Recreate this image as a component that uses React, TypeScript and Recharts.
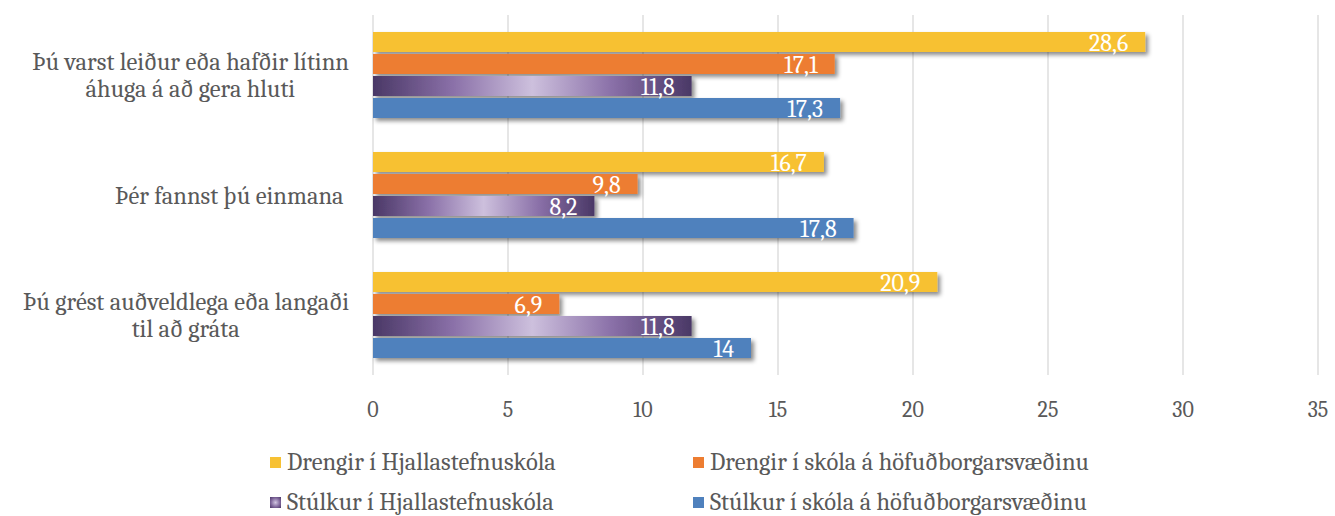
import React from "react"
import {
  BarChart,
  Bar,
  XAxis,
  YAxis,
  CartesianGrid,
  Legend,
  LabelList,
} from "recharts"

// flokkar (hver lína í flokksheiti er sér strengur)
const categories: string[][] = [
  ["Þú varst leiður eða hafðir lítinn", "áhuga á að gera hluti"],
  ["Þér fannst þú einmana "],
  ["Þú grést auðveldlega eða langaði", "til að gráta"],
]

const drengirHjalla = [28.6, 16.7, 20.9]
const drengirHofud = [17.1, 9.8, 6.9]
const stulkurHjalla = [11.8, 8.2, 11.8]
const stulkurHofud = [17.3, 17.8, 14]

const seriesNames = [
  "Drengir í Hjallastefnuskóla",
  "Drengir í skóla á höfuðborgarsvæðinu",
  "Stúlkur í Hjallastefnuskóla",
  "Stúlkur í skóla á höfuðborgarsvæðinu",
]

const xTicks = [0, 5, 10, 15, 20, 25, 30, 35]

const FONT = "Cambria, Caladea, 'Liberation Serif', serif"
const TEXT = "#595959"
const COLORS = ["#F7C133", "#ED7D31", "url(#purpleGrad)", "#4F81BD"]

const data = categories.map((lines, i) => ({
  name: lines.join(" "),
  lines,
  d1: drengirHjalla[i],
  d2: drengirHofud[i],
  s1: stulkurHjalla[i],
  s2: stulkurHofud[i],
}))

let ctx: CanvasRenderingContext2D | null = null
function measure(text: string, size: number) {
  if (!ctx) ctx = document.createElement("canvas").getContext("2d")
  if (!ctx) return text.length * size * 0.45
  ctx.font = `${size}px ${FONT}`
  return ctx.measureText(text).width
}

const CategoryTick = (props: any) => {
  const { y, payload } = props
  const lines: string[] = categories[payload.index] ?? [payload.value]
  const size = 24.5
  const lh = 27
  const right = 349
  const w = Math.max(...lines.map((l) => measure(l, size)))
  const cx = right - w / 2
  const top = y - ((lines.length - 1) * lh) / 2
  return (
    <g>
      {lines.map((l, i) => (
        <text
          key={i}
          x={cx}
          y={top + i * lh}
          dy="0.35em"
          textAnchor="middle"
          fontFamily={FONT}
          fontSize={size}
          fill={TEXT}
          style={{ whiteSpace: "pre" }}
        >
          {l}
        </text>
      ))}
    </g>
  )
}

const fmt = (v: any) => String(v).replace(".", ",")

const LegendBox = () => {
  const pos = [
    { left: 270, top: 24 },
    { left: 693, top: 24 },
    { left: 270, top: 64 },
    { left: 693, top: 64 },
  ]
  return (
    <div style={{ position: "relative", width: 1335, height: 91 }}>
      {seriesNames.map((n, i) => (
        <div
          key={n}
          style={{
            position: "absolute",
            left: pos[i].left,
            top: pos[i].top,
            display: "flex",
            alignItems: "center",
            fontFamily: FONT,
            fontSize: 24.5,
            lineHeight: "26px",
            color: TEXT,
            whiteSpace: "nowrap",
          }}
        >
          <span
            style={{
              display: "inline-block",
              width: 11,
              height: 11,
              marginRight: 6,
              background:
                i === 2
                  ? "radial-gradient(circle, #d2c6e2 0%, #7d6499 60%, #4a3866 100%)"
                  : COLORS[i],
            }}
          />
          {n}
        </div>
      ))}
    </div>
  )
}

export default function App() {
  const keys = ["d1", "d2", "s1", "s2"]
  return (
    <div style={{ position: "absolute", left: 0, top: 0, background: "#fff" }}>
      <BarChart
        width={1335}
        height={516}
        data={data}
        layout="vertical"
        margin={{ top: 15, right: 17, bottom: 0, left: 0 }}
        barSize={20}
        barGap={2}
      >
        <defs>
          <linearGradient id="purpleGrad" x1="0" y1="0" x2="1" y2="0">
            <stop offset="0%" stopColor="#4a3866" />
            <stop offset="25%" stopColor="#8a70a8" />
            <stop offset="50%" stopColor="#cdc0dd" />
            <stop offset="75%" stopColor="#8a70a8" />
            <stop offset="100%" stopColor="#4a3866" />
          </linearGradient>
          <filter id="shadow" x="-5%" y="-30%" width="115%" height="180%">
            <feDropShadow dx="3" dy="3" stdDeviation="2.2" floodColor="#000" floodOpacity="0.45" />
          </filter>
        </defs>
        <CartesianGrid horizontal={false} stroke="#d9d9d9" strokeWidth={1.3} />
        <XAxis
          type="number"
          domain={[0, 35]}
          ticks={xTicks}
          axisLine={false}
          tickLine={false}
          tickSize={0}
          tickMargin={26}
          height={50}
          tick={{ fontFamily: FONT, fontSize: 22, fill: TEXT }}
        />
        <YAxis
          type="category"
          dataKey="name"
          width={373}
          axisLine={false}
          tickLine={false}
          tick={<CategoryTick />}
        />
        <Legend verticalAlign="bottom" wrapperStyle={{ left: 0, width: 1335 }} content={<LegendBox />} />
        {keys.map((k, i) => (
          <Bar
            key={k}
            dataKey={k}
            name={seriesNames[i]}
            fill={COLORS[i]}
            filter="url(#shadow)"
            isAnimationActive={false}
          >
            <LabelList
              dataKey={k}
              position="insideRight"
              offset={17}
              formatter={fmt}
              fill="#fff"
              fontFamily={FONT}
              fontSize={24}
            />
          </Bar>
        ))}
      </BarChart>
    </div>
  )
}
